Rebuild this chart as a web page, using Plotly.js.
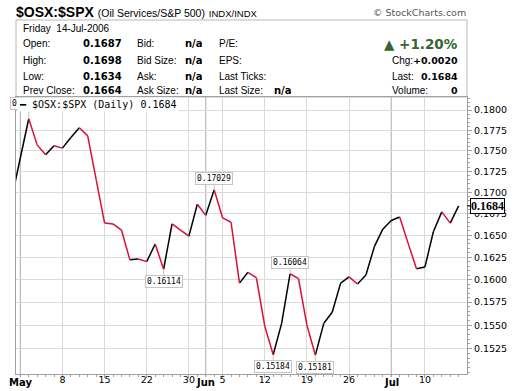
<!DOCTYPE html>
<html><head><meta charset="utf-8">
<script src="https://cdn.plot.ly/plotly-3.0.1.min.js"></script>
<style>html,body{margin:0;padding:0;background:#fff}#chart{width:520px;height:391px}</style>
</head><body><div id="chart"></div>
<script>
// ---------- data ----------
const dates = [
 '2006-04-28',
 '2006-05-01','2006-05-02','2006-05-03','2006-05-04','2006-05-05',
 '2006-05-08','2006-05-09','2006-05-10','2006-05-11','2006-05-12',
 '2006-05-15','2006-05-16','2006-05-17','2006-05-18','2006-05-19',
 '2006-05-22','2006-05-23','2006-05-24','2006-05-25','2006-05-26',
 '2006-05-30','2006-05-31','2006-06-01','2006-06-02',
 '2006-06-05','2006-06-06','2006-06-07','2006-06-08','2006-06-09',
 '2006-06-12','2006-06-13','2006-06-14','2006-06-15','2006-06-16',
 '2006-06-19','2006-06-20','2006-06-21','2006-06-22','2006-06-23',
 '2006-06-26','2006-06-27','2006-06-28','2006-06-29','2006-06-30',
 '2006-07-03','2006-07-05','2006-07-06','2006-07-07',
 '2006-07-10','2006-07-11','2006-07-12','2006-07-13','2006-07-14'
];
const closes = [
 0.1694,
 0.1741, 0.17892, 0.1757, 0.1745, 0.1756,
 0.1753, 0.1766, 0.1778, 0.1768, 0.1715,
 0.1664, 0.1663, 0.1656, 0.1622, 0.1623,
 0.1620, 0.1640, 0.16114, 0.1663, 0.1656,
 0.1649, 0.1686, 0.1673, 0.17029,
 0.1670, 0.1665, 0.1596, 0.1608, 0.1602,
 0.1549, 0.15184, 0.1552, 0.16064, 0.1601,
 0.1550, 0.15181, 0.1552, 0.1564, 0.1596,
 0.1603, 0.1595, 0.1605, 0.1637, 0.1657,
 0.1667, 0.1671, 0.1641, 0.1612,
 0.1614, 0.1654, 0.1677, 0.1664, 0.1684
];
const yTickVals = [0.1525,0.1550,0.1575,0.1600,0.1625,0.1650,0.1675,0.1700,0.1725,0.1750,0.1775,0.1800];
const xTickDates = ['2006-05-08','2006-05-15','2006-05-22','2006-05-30','2006-06-05','2006-06-12','2006-06-19','2006-06-26','2006-07-10'];
const xTickLabels = ['8','15','22','30','5','12','19','26','10'];
const monthStartDates = ['2006-05-01','2006-06-01','2006-07-03'];
const monthLabels = ['May','Jun','Jul'];
const markDates = ['2006-05-02','2006-05-24','2006-06-02','2006-06-13','2006-06-15','2006-06-20'];

const titleSymbol = '$OSX:$SPX';
const titleName = '(Oil Services/S&P 500)';
const titleExchange = 'INDX/INDX';
const credit = '\u00a9 StockCharts.com';
const headerDate = 'Friday  14-Jul-2006';
const labels1 = ['Open:','High:','Low:','Prev Close:'];
const values1 = ['0.1687','0.1698','0.1634','0.1664'];
const labels2 = ['Bid:','Bid Size:','Ask:','Ask Size:'];
const values2 = ['n/a','n/a','n/a','n/a'];
const labels3 = ['P/E:','EPS:','Last Ticks:','Last Size:'];
const values3 = ['','','','n/a'];
const changePct = '+1.20%';
const labelsR = ['Chg:','Last:','Volume:'];
const valuesR = ['+0.0020','0.1684','0'];
const legendText = '$OSX:$SPX (Daily) 0.1684';

// ---------- geometry helpers ----------
const W=520,H=391,L=16,R=53,T=97,B=17;
const pw=W-L-R, ph=H-T-B;
const px = x => (x-L)/pw;
const py = y => (H-B-y)/ph;
const idx = d => dates.indexOf(d);

// ---------- traces (segments coloured by direction) ----------
const up={x:[],y:[]}, dn={x:[],y:[]};
for(let i=1;i<closes.length;i++){
  const t = closes[i]>=closes[i-1]?up:dn;
  t.x.push(i-1,i,null); t.y.push(closes[i-1],closes[i],null);
}
const RED='#d8103a';
const traces=[
  {x:up.x,y:up.y,type:'scatter',mode:'lines',line:{color:'#000',width:1.5},hoverinfo:'skip',showlegend:false,connectgaps:false},
  {x:dn.x,y:dn.y,type:'scatter',mode:'lines',line:{color:RED,width:1.5},hoverinfo:'skip',showlegend:false,connectgaps:false}
];

// ---------- annotations ----------
const ann=[];
const hdrFont='Liberation Sans, Arial, sans-serif';
const boldFont='DejaVu Sans, Verdana, sans-serif';
function txt(text,x,y,anchor,font){
  ann.push({text:text,xref:'paper',yref:'paper',x:px(x),y:py(y),xanchor:anchor,yanchor:'middle',
    showarrow:false,borderpad:0,font:font});
}
// markers
const markOffsets=[-15,12,-11,12,-11,12];
markDates.forEach((d,k)=>{
  const i=idx(d), v=closes[i];
  ann.push({x:i,y:Math.log10(v),xref:'x',yref:'y',text:v.toFixed(5),showarrow:true,arrowhead:0,
    arrowwidth:1,arrowcolor:'#c4c4c4',ax:0,ay:markOffsets[k],standoff:0,
    bgcolor:'#fff',bordercolor:'#c4c4c4',borderwidth:1,borderpad:1,
    font:{family:'DejaVu Sans Mono, monospace',size:8,color:'#000'}});
});
// legend-like label
ann.push({text:'\u2501 '+legendText,xref:'paper',yref:'paper',x:px(17),y:py(104),xanchor:'left',yanchor:'middle',
  showarrow:false,bgcolor:'#fff',borderpad:1,font:{family:'DejaVu Sans Mono, monospace',size:10,color:'#000'}});
// last value tag
ann.push({text:'<b>'+closes[closes.length-1].toFixed(4)+'</b>',xref:'paper',yref:'y',x:1,y:Math.log10(closes[closes.length-1]),
  showarrow:true,ax:20,ay:0,arrowhead:0,arrowwidth:1,arrowcolor:'#000',standoff:0,
  bgcolor:'#fff',bordercolor:'#000',borderwidth:1,borderpad:0,
  font:{family:'Liberation Serif, Times New Roman, serif',size:12,color:'#000'}});
// month labels on the x axis
monthStartDates.forEach((d,k)=>{
  ann.push({text:'<b>'+monthLabels[k]+'</b>',xref:'x',yref:'paper',x:idx(d),y:py(382),xanchor:'center',yanchor:'middle',
    showarrow:false,borderpad:0,font:{family:'DejaVu Sans, Verdana, sans-serif',size:10,color:'#000'}});
});
// title
ann.push({text:'<b>'+titleSymbol+'</b> <span style="font-size:10.5px">'+titleName+'</span> <span style="font-size:9.5px">'+titleExchange+'</span>',
  xref:'paper',yref:'paper',x:px(15),y:py(12),xanchor:'left',yanchor:'middle',showarrow:false,borderpad:0,
  font:{family:hdrFont,size:14,color:'#000'}});
txt(credit,467,12,'right',{family:'DejaVu Sans, sans-serif',size:9.5,color:'#555'});
txt(headerDate,22,28,'left',{family:hdrFont,size:10,color:'#000'});
const rowY=[44,60,76,91];
const lf={family:hdrFont,size:10,color:'#000'};
const vf={family:boldFont,size:10,color:'#000'};
const vfR={family:boldFont,size:9.5,color:'#000'};
for(let r=0;r<4;r++){
  txt(labels1[r],22,rowY[r],'left',lf);
  txt('<b>'+values1[r]+'</b>',82,rowY[r],'left',vf);
  txt(labels2[r],136,rowY[r],'left',lf);
  txt('<b>'+values2[r]+'</b>',204,rowY[r],'right',vf);
  txt(labels3[r],218,rowY[r],'left',lf);
  if(values3[r]) txt('<b>'+values3[r]+'</b>',273,rowY[r],'left',vf);
}
txt('<b>\u25B2 '+changePct+'</b>',459,44,'right',{family:boldFont,size:13.5,color:'#336633'});
for(let r=0;r<3;r++){
  txt(labelsR[r],391,rowY[r+1],'left',lf);
  txt('<b>'+valuesR[r]+'</b>',459,rowY[r+1],'right',vfR);
}

// ---------- shapes ----------
const shapes=[
  {type:'rect',xref:'paper',yref:'paper',x0:0,x1:1,y0:1,y1:py(20),line:{color:'#b8b8b8',width:1},fillcolor:'#fff',layer:'below'}
];
monthStartDates.forEach(d=>{
  shapes.push({type:'line',xref:'x',yref:'paper',x0:idx(d),x1:idx(d),y0:0,y1:1,line:{color:'#acacac',width:1},layer:'below'});
  shapes.push({type:'line',xref:'x',yref:'paper',x0:idx(d),x1:idx(d),y0:0,y1:py(377),line:{color:'#a0a0a0',width:1},layer:'below'});
});

const layout={
  width:W,height:H,margin:{l:L,r:R,t:T,b:B,pad:0},
  paper_bgcolor:'#fff',plot_bgcolor:'#fff',showlegend:false,
  xaxis:{type:'linear',range:[0.49,53.99],tickvals:xTickDates.map(idx),ticktext:xTickLabels,
    showgrid:true,gridcolor:'#dadada',gridwidth:1,zeroline:false,
    showline:true,linecolor:'#a0a0a0',linewidth:1,mirror:true,
    ticks:'outside',ticklen:3,tickcolor:'#a0a0a0',ticklabelstandoff:-6,
    minor:{dtick:1,tick0:0,ticks:'outside',ticklen:2,tickcolor:'#a0a0a0',showgrid:false},
    tickfont:{family:'DejaVu Sans, Verdana, sans-serif',size:9.5,color:'#000'},fixedrange:true},
  yaxis:{type:'log',side:'right',range:[-0.82441,-0.740775],tickvals:yTickVals,ticktext:yTickVals.map(v=>v.toFixed(4)),
    showgrid:true,gridcolor:'#dadada',gridwidth:1,zeroline:false,
    showline:true,linecolor:'#a0a0a0',linewidth:1,mirror:true,
    ticks:'outside',ticklen:4,tickcolor:'#a0a0a0',
    minor:{dtick:'L0.0005',ticks:'outside',ticklen:2,tickcolor:'#a0a0a0',showgrid:false},
    tickfont:{family:'DejaVu Sans, Verdana, sans-serif',size:9.5,color:'#000'},fixedrange:true},
  annotations:ann,shapes:shapes
};
Plotly.newPlot('chart',traces,layout,{staticPlot:true,displayModeBar:false});
</script></body></html>
